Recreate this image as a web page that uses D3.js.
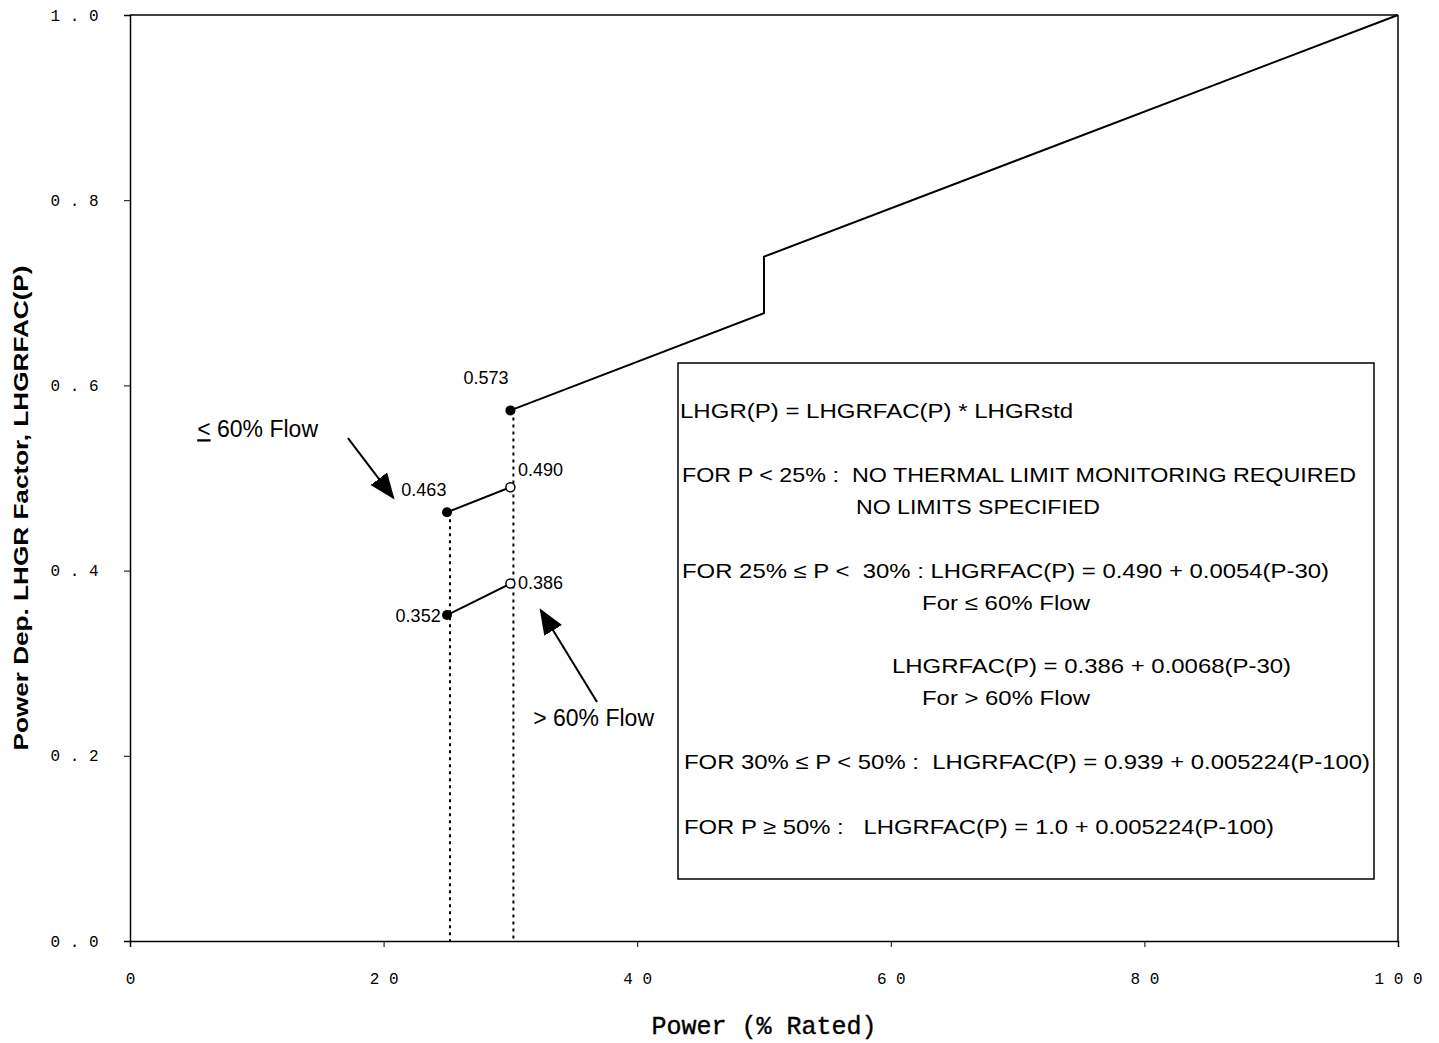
<!DOCTYPE html>
<html><head><meta charset="utf-8">
<script src="https://cdn.jsdelivr.net/npm/d3@7"></script>
<style>body{margin:0;background:#fff}svg{display:block}</style>
</head><body>
<script>
const xTicks=[0,20,40,60,80,100];
const yTicks=[0,0.2,0.4,0.6,0.8,1.0];
const mainLine=[[30,0.573],[50,0.678],[50,0.739],[100,1.0]];
const lowFlow=[[25,0.463],[30,0.490]];
const highFlow=[[25,0.352],[30,0.386]];
const filledPts=[[30,0.573],[25,0.463],[25,0.352]];
const openPts=[[30,0.490],[30,0.386]];
const dropLines=[[25,0.463],[30,0.573]];
const valueLabels=[["0.573",26.3,0.601,"start"],["0.463",21.4,0.481,"start"],["0.490",30.6,0.502,"start"],["0.386",30.6,0.380,"start"],["0.352",24.5,0.345,"end"]];

const W=1439,H=1043;
const svg=d3.select("body").append("svg").attr("width",W).attr("height",H);
const x=d3.scaleLinear().domain([0,100]).range([130,1398]);
const y=d3.scaleLinear().domain([0,1]).range([941,15]);
const mono="'Liberation Mono','DejaVu Sans Mono',monospace";
const narrow="'Liberation Sans Narrow','Liberation Sans',Arial,sans-serif";

svg.append("line").attr("x1",x(0)).attr("x2",x(100)).attr("y1",y(1)).attr("y2",y(1)).attr("stroke","#000").attr("stroke-width",1.5);
svg.append("line").attr("x1",x(100)).attr("x2",x(100)).attr("y1",y(1)).attr("y2",y(0)).attr("stroke","#000").attr("stroke-width",1.5);
const xa=svg.append("g").attr("transform",`translate(0,${y(0)})`).call(d3.axisBottom(x).tickValues(xTicks).tickSize(6).tickFormat(d=>String(d).split("").join(" ")));
const ya=svg.append("g").attr("transform",`translate(${x(0)},0)`).call(d3.axisLeft(y).tickValues(yTicks).tickSize(6).tickFormat(d=>d3.format(".1f")(d).split("").join(" ")));
[xa,ya].forEach(g=>{g.select(".domain").attr("stroke-width",1.5);g.selectAll("text").attr("font-family",mono).attr("font-size",16).attr("fill","#000");});
xa.selectAll(".tick text").attr("dy","2.1em");
ya.selectAll(".tick text").attr("dx","-1.4em");

svg.append("text").attr("x",(x(0)+x(100))/2).attr("y",1034).attr("text-anchor","middle").attr("font-family",mono).attr("font-size",25).attr("stroke","#000").attr("stroke-width",0.4).text("Power (% Rated)");
svg.append("text").attr("transform",`translate(28,${y(0.5)+30}) rotate(-90)`).attr("text-anchor","middle").attr("font-family","'Liberation Sans',Arial,sans-serif").attr("font-weight","bold").attr("font-size",21).attr("textLength",485).attr("lengthAdjust","spacingAndGlyphs").text("Power Dep. LHGR Factor, LHGRFAC(P)");

const line=d3.line().x(d=>x(d[0])).y(d=>y(d[1]));
dropLines.forEach(d=>svg.append("line").attr("x1",x(d[0])+3).attr("x2",x(d[0])+3).attr("y1",y(d[1])).attr("y2",y(0)).attr("stroke","#000").attr("stroke-width",2).attr("stroke-dasharray","3,4"));
[mainLine,lowFlow,highFlow].forEach(p=>svg.append("path").attr("d",line(p)).attr("fill","none").attr("stroke","#000").attr("stroke-width",2));
filledPts.forEach(d=>svg.append("circle").attr("cx",x(d[0])).attr("cy",y(d[1])).attr("r",5).attr("fill","#000"));
openPts.forEach(d=>svg.append("circle").attr("cx",x(d[0])).attr("cy",y(d[1])).attr("r",4.5).attr("fill","#fff").attr("stroke","#000").attr("stroke-width",1.5));
valueLabels.forEach(([t,a,b,anc])=>svg.append("text").attr("x",x(a)).attr("y",y(b)).attr("text-anchor",anc).attr("font-family","'Liberation Sans',Arial,sans-serif").attr("font-size",18).text(t));

svg.append("defs").append("marker").attr("id","ah").attr("viewBox","0 0 10 10").attr("refX",9).attr("refY",5).attr("orient","auto").attr("markerUnits","userSpaceOnUse").attr("markerWidth",26).attr("markerHeight",26).append("path").attr("d","M0,1 L10,5 L0,9 z").attr("fill","#000");
[[17.19,0.543,20.74,0.479],[36.83,0.258,32.41,0.357]].forEach(([a,b,c,d])=>svg.append("line").attr("x1",x(a)).attr("y1",y(b)).attr("x2",x(c)).attr("y2",y(d)).attr("stroke","#000").attr("stroke-width",2).attr("marker-end","url(#ah)"));
const f1=svg.append("text").attr("x",x(5.3)).attr("y",y(0.544)).attr("font-family",narrow).attr("font-size",23);
f1.append("tspan").attr("text-decoration","underline").text("<");f1.append("tspan").text(" 60% Flow");
svg.append("text").attr("x",x(31.8)).attr("y",y(0.232)).attr("font-family",narrow).attr("font-size",23).text("> 60% Flow");

svg.append("rect").attr("x",678).attr("y",363).attr("width",696).attr("height",516).attr("fill","#fff").attr("stroke","#000").attr("stroke-width",1.5);
const boxLines=[
 ["LHGR(P) = LHGRFAC(P) * LHGRstd",680,418,393],
 ["FOR P < 25% :  NO THERMAL LIMIT MONITORING REQUIRED",682,482,674],
 ["NO LIMITS SPECIFIED",856,514,244],
 ["FOR 25% ≤ P <  30% : LHGRFAC(P) = 0.490 + 0.0054(P-30)",682,578,647],
 ["For ≤ 60% Flow",922,610,168],
 ["LHGRFAC(P) = 0.386 + 0.0068(P-30)",892,673,399],
 ["For > 60% Flow",922,705,168],
 ["FOR 30% ≤ P < 50% :  LHGRFAC(P) = 0.939 + 0.005224(P-100)",684,769,686],
 ["FOR P ≥ 50% :   LHGRFAC(P) = 1.0 + 0.005224(P-100)",684,834,590]];
boxLines.forEach(([t,px,py,len])=>svg.append("text").attr("x",px).attr("y",py).attr("font-family",narrow).attr("font-size",21).attr("textLength",len).attr("lengthAdjust","spacingAndGlyphs").style("white-space","pre").text(t));
</script>
</body></html>
